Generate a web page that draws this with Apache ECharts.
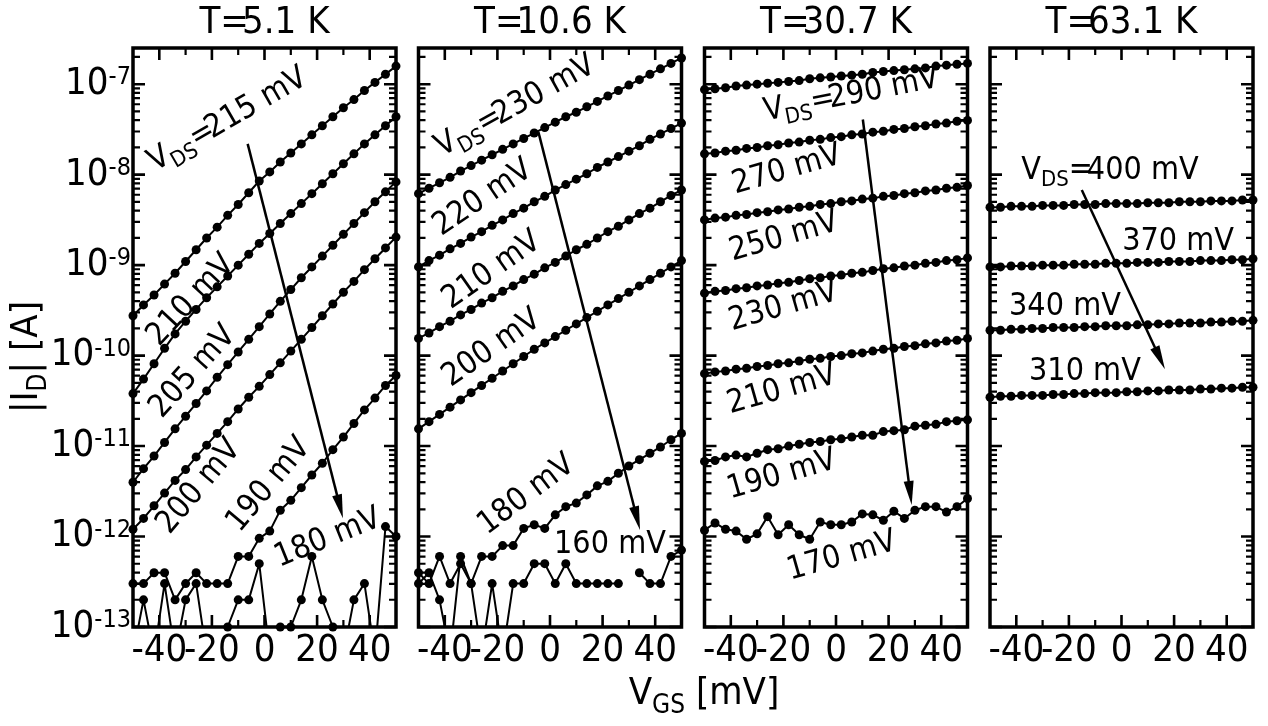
<!DOCTYPE html>
<html>
<head>
<meta charset="utf-8">
<script src="https://cdn.jsdelivr.net/npm/echarts@6/dist/echarts.min.js"></script>
<style>
  html, body { margin: 0; padding: 0; background: #fff; }
  #chart { width: 1268px; height: 726px; }
</style>
</head>
<body>
<div id="chart"></div>
<script>
// gate voltage V_GS [mV], same sweep in every panel
const vgs = [-50, -46, -42, -38, -34, -30, -26, -22, -18, -14, -10, -6, -2,
             2, 6, 10, 14, 18, 22, 26, 30, 34, 38, 42, 46, 50];

// log10 |I_D| [A] (values under 1e-13 sit below the axis)
// T = 5.1 K
const t5_215 = [-9.56,-9.44,-9.33,-9.21,-9.09,-8.96,-8.83,-8.70,-8.58,-8.45,-8.33,-8.20,-8.07,-7.97,-7.86,-7.76,-7.66,-7.56,-7.46,-7.36,-7.26,-7.17,-7.07,-6.98,-6.89,-6.80];
const t5_210 = [-10.42,-10.26,-10.09,-9.92,-9.76,-9.62,-9.49,-9.36,-9.24,-9.12,-9.00,-8.88,-8.76,-8.65,-8.54,-8.43,-8.32,-8.21,-8.10,-7.99,-7.88,-7.77,-7.66,-7.56,-7.46,-7.36];
const t5_205 = [-11.40,-11.25,-11.11,-10.96,-10.81,-10.67,-10.53,-10.39,-10.24,-10.10,-9.96,-9.82,-9.68,-9.54,-9.40,-9.27,-9.14,-9.02,-8.90,-8.78,-8.66,-8.54,-8.42,-8.30,-8.19,-8.08];
const t5_200 = [-11.92,-11.80,-11.66,-11.52,-11.38,-11.26,-11.12,-10.99,-10.86,-10.73,-10.59,-10.46,-10.34,-10.21,-10.08,-9.95,-9.82,-9.69,-9.56,-9.43,-9.30,-9.18,-9.05,-8.93,-8.81,-8.69];
const t5_190 = [-12.52,-12.52,-12.40,-12.40,-12.70,-12.52,-12.40,-12.52,-12.52,-12.52,-12.22,-12.22,-12.02,-11.94,-11.71,-11.60,-11.46,-11.32,-11.19,-11.04,-10.90,-10.75,-10.60,-10.47,-10.33,-10.22];
const t5_180 = [-13.3,-12.70,-13.3,-12.52,-13.3,-12.70,-12.52,-13.3,-13.3,-13.0,-12.70,-12.70,-12.30,-13.3,-13.0,-13.0,-12.70,-12.22,-12.70,-13.0,-13.3,-12.70,-12.52,-13.3,-11.89,-12.00];
// T = 10.6 K
const t10_230 = [-8.21,-8.15,-8.09,-8.03,-7.96,-7.90,-7.84,-7.78,-7.72,-7.66,-7.60,-7.54,-7.48,-7.42,-7.36,-7.31,-7.25,-7.19,-7.13,-7.07,-7.01,-6.95,-6.89,-6.83,-6.77,-6.71];
const t10_220 = [-9.02,-8.95,-8.89,-8.82,-8.76,-8.69,-8.63,-8.56,-8.50,-8.43,-8.37,-8.30,-8.24,-8.17,-8.11,-8.05,-7.99,-7.92,-7.86,-7.80,-7.74,-7.68,-7.61,-7.55,-7.49,-7.43];
const t10_210 = [-9.81,-9.75,-9.68,-9.62,-9.55,-9.49,-9.42,-9.36,-9.29,-9.23,-9.16,-9.10,-9.03,-8.97,-8.90,-8.83,-8.77,-8.70,-8.63,-8.57,-8.50,-8.43,-8.37,-8.30,-8.23,-8.17];
const t10_200 = [-10.81,-10.73,-10.65,-10.57,-10.49,-10.41,-10.33,-10.25,-10.17,-10.09,-10.01,-9.93,-9.86,-9.79,-9.72,-9.65,-9.58,-9.51,-9.44,-9.37,-9.30,-9.23,-9.16,-9.09,-9.02,-8.95];
const t10_180 = [-12.40,-12.52,-12.22,-12.52,-12.30,-12.52,-12.22,-12.22,-12.10,-12.10,-11.91,-11.87,-11.91,-11.76,-11.67,-11.63,-11.54,-11.44,-11.39,-11.30,-11.22,-11.15,-11.08,-11.01,-10.93,-10.86];
const t10_160 = [-12.52,-12.40,-12.70,-13.3,-12.22,-12.52,-13.3,-12.52,-13.3,-12.52,-12.52,-12.30,-12.30,-12.52,-12.30,-12.52,-12.52,-12.52,-12.52,-12.52,null,-12.40,-12.52,-12.52,-12.22,-12.15];
// T = 30.7 K
const t30_290 = [-7.06,-7.05,-7.04,-7.02,-7.01,-7.00,-6.99,-6.98,-6.97,-6.96,-6.94,-6.93,-6.92,-6.91,-6.90,-6.89,-6.87,-6.86,-6.85,-6.84,-6.83,-6.82,-6.80,-6.79,-6.78,-6.77];
const t30_270 = [-7.77,-7.76,-7.74,-7.73,-7.71,-7.70,-7.68,-7.67,-7.65,-7.64,-7.62,-7.61,-7.59,-7.58,-7.56,-7.55,-7.53,-7.52,-7.50,-7.49,-7.47,-7.46,-7.44,-7.43,-7.41,-7.40];
const t30_250 = [-8.50,-8.48,-8.47,-8.45,-8.44,-8.42,-8.41,-8.39,-8.38,-8.36,-8.35,-8.33,-8.32,-8.30,-8.29,-8.27,-8.26,-8.24,-8.23,-8.21,-8.20,-8.18,-8.17,-8.15,-8.14,-8.12];
const t30_230 = [-9.31,-9.29,-9.28,-9.26,-9.25,-9.23,-9.22,-9.20,-9.19,-9.17,-9.15,-9.14,-9.12,-9.11,-9.09,-9.08,-9.06,-9.04,-9.03,-9.01,-9.00,-8.98,-8.97,-8.95,-8.94,-8.92];
const t30_210 = [-10.20,-10.18,-10.17,-10.15,-10.14,-10.12,-10.11,-10.09,-10.08,-10.06,-10.04,-10.03,-10.01,-10.00,-9.98,-9.97,-9.95,-9.93,-9.92,-9.90,-9.89,-9.87,-9.86,-9.84,-9.83,-9.81];
const t30_190 = [-11.17,-11.16,-11.12,-11.10,-11.12,-11.08,-11.04,-11.03,-11.00,-10.98,-10.96,-10.95,-10.93,-10.92,-10.90,-10.88,-10.88,-10.84,-10.83,-10.82,-10.78,-10.77,-10.76,-10.73,-10.72,-10.71];
const t30_170 = [-11.93,-11.85,-11.92,-11.94,-12.03,-11.97,-11.78,-11.98,-11.87,-11.98,-12.03,-11.84,-11.87,-11.87,-11.84,-11.75,-11.76,-11.82,-11.72,-11.80,-11.71,-11.67,-11.67,-11.73,-11.67,-11.58];
// T = 63.1 K
const t63_400 = [-8.36,-8.36,-8.35,-8.35,-8.35,-8.34,-8.34,-8.34,-8.33,-8.33,-8.33,-8.32,-8.32,-8.32,-8.32,-8.31,-8.31,-8.31,-8.30,-8.30,-8.30,-8.29,-8.29,-8.29,-8.28,-8.28];
const t63_370 = [-9.02,-9.02,-9.01,-9.01,-9.01,-9.00,-9.00,-9.00,-8.99,-8.99,-8.99,-8.98,-8.98,-8.98,-8.97,-8.97,-8.97,-8.96,-8.96,-8.96,-8.95,-8.95,-8.95,-8.94,-8.94,-8.93];
const t63_340 = [-9.72,-9.72,-9.71,-9.71,-9.70,-9.70,-9.69,-9.69,-9.69,-9.68,-9.68,-9.67,-9.67,-9.67,-9.66,-9.66,-9.65,-9.65,-9.64,-9.64,-9.64,-9.63,-9.63,-9.62,-9.62,-9.61];
const t63_310 = [-10.46,-10.45,-10.45,-10.44,-10.44,-10.44,-10.43,-10.43,-10.42,-10.42,-10.41,-10.41,-10.41,-10.40,-10.40,-10.39,-10.39,-10.38,-10.38,-10.38,-10.37,-10.37,-10.36,-10.36,-10.35,-10.35];

// tick marks
const xMajor = [-40, -20, 0, 20, 40];
const xMinor = [-30, -10, 10, 30];
const yDecades = [-13, -12, -11, -10, -9, -8, -7];
const yMinorMult = [2, 3, 4, 5, 6, 7, 8, 9];

// curve labels: text, position [mV, log10 A], angle in degrees
const lab5 = [
  ['VDS|215 mV', -13.5, -7.42, 30], ['210 mV', -27.9, -9.39, 47], ['205 mV', -27.2, -10.18, 48],
  ['200 mV', -24.9, -11.45, 50], ['190 mV', 1.7, -11.43, 50], ['180 mV', 24.1, -12.02, 22]
];
const lab10 = [
  ['VDS|230 mV', -12.7, -7.27, 29], ['220 mV', -25.5, -8.26, 34], ['210 mV', -22.1, -9.06, 35],
  ['200 mV', -22.1, -9.92, 35], ['180 mV', -8.9, -11.54, 37], ['160 mV', 22.8, -12.09, 0]
];
const lab30 = [
  ['VDS|290 mV', 6.0, -7.15, 11], ['270 mV', -18.7, -7.95, 16], ['250 mV', -19.8, -8.69, 16],
  ['230 mV', -20.0, -9.46, 16], ['210 mV', -20.6, -10.38, 16], ['190 mV', -20.6, -11.32, 16],
  ['170 mV', 2.2, -12.22, 16]
];
const lab63 = [
  ['VDS|400 mV', -4.4, -7.98, 0], ['370 mV', 21.5, -8.74, 0], ['340 mV', -21.5, -9.46, 0],
  ['310 mV', -13.9, -10.18, 0]
];

// arrows: from -> to, [mV, log10 A]
const arr5 = [[-6.4, -7.66], [28.7, -11.67]];
const arr10 = [[-4.4, -7.53], [33.1, -11.80]];
const arr30 = [[10.2, -7.39], [28.2, -11.52]];
const arr63 = [[-15.1, -8.17], [14.6, -10.03]];

const panels = [
  { title: ['T=', '5.1 K'], curves: [t5_215, t5_210, t5_205, t5_200, t5_190, t5_180], labels: lab5, arrow: arr5 },
  { title: ['T=', '10.6 K'], curves: [t10_230, t10_220, t10_210, t10_200, t10_180, t10_160], labels: lab10, arrow: arr10 },
  { title: ['T=', '30.7 K'], curves: [t30_290, t30_270, t30_250, t30_230, t30_210, t30_190, t30_170], labels: lab30, arrow: arr30 },
  { title: ['T=', '63.1 K'], curves: [t63_400, t63_370, t63_340, t63_310], labels: lab63, arrow: arr63 }
];

const FONT = '"DejaVu Sans Condensed", "DejaVu Sans"';
const xMin = -50, xMax = 50, yMin = -13, yMax = -6.6;
const gridLeft = [133, 418.5, 704.5, 990];
const gridW = 263, gridTop = 48, gridH = 579;

// tick marks as short line segments in data units (length given in pixels)
const mvPerPx = (xMax - xMin) / gridW, decPerPx = (yMax - yMin) / gridH;
function tickSegments(xs, ys, len) {
  const d = [];
  const dy = len * decPerPx, dx = len * mvPerPx;
  xs.forEach(v => {
    d.push([v, yMin], [v, yMin + dy], [v, null]);
    d.push([v, yMax], [v, yMax - dy], [v, null]);
  });
  ys.forEach(v => {
    d.push([xMin, v], [xMin + dx, v], [xMin, null]);
    d.push([xMax, v], [xMax - dx, v], [xMax, null]);
  });
  return d;
}
const yMinorVals = [];
yDecades.forEach(d => yMinorMult.forEach(m => {
  const v = d + Math.log10(m);
  if (v < yMax) yMinorVals.push(v);
}));
const majorTicks = tickSegments(xMajor, yDecades, 12);
const minorTicks = tickSegments(xMinor, yMinorVals, 7);

const grids = [], xAxes = [], yAxes = [], series = [];
panels.forEach((p, i) => {
  grids.push({ left: gridLeft[i], top: gridTop, width: gridW, height: gridH,
    show: true, borderColor: '#000', borderWidth: 3.5, backgroundColor: 'transparent' });
  xAxes.push({ type: 'value', gridIndex: i, min: xMin, max: xMax, interval: 10,
    axisLine: { show: false }, axisTick: { show: false }, splitLine: { show: false },
    axisLabel: { margin: 5, color: '#000', fontFamily: FONT, fontSize: 38,
      formatter: v => (v % 20 === 0 ? String(v) : '') } });
  yAxes.push({ type: 'value', gridIndex: i, min: yMin, max: yMax, interval: 1,
    axisLine: { show: false }, axisTick: { show: false }, splitLine: { show: false },
    axisLabel: { show: i === 0, margin: 2,
      formatter: v => (Number.isInteger(v) ? '{b|10}{s|' + v + '}' : ''),
      rich: {
        b: { fontSize: 38, fontFamily: FONT, color: '#000' },
        s: { fontSize: 25, fontFamily: FONT, color: '#000', verticalAlign: 'top' }
      } } });

  p.curves.forEach((c, j) => {
    const s = {
      type: 'line', xAxisIndex: i, yAxisIndex: i,
      data: vgs.map((x, k) => [x, c[k]]),
      symbol: 'circle', symbolSize: 9, showAllSymbol: true,
      lineStyle: { color: '#000', width: 2 }, itemStyle: { color: '#000' },
      clip: true, silent: true, z: 3
    };
    if (j === 0) {
      s.markLine = {
        silent: true, symbol: ['none', 'triangle'], symbolSize: [10, 24],
        lineStyle: { color: '#000', width: 2.5, type: 'solid' },
        label: { show: false },
        data: [[{ coord: p.arrow[0] }, { coord: p.arrow[1] }]]
      };
    }
    series.push(s);
  });
  [[majorTicks, 2.6], [minorTicks, 2.2]].forEach(t => series.push({
    type: 'line', xAxisIndex: i, yAxisIndex: i, data: t[0], symbol: 'none',
    connectNulls: false, clip: false, silent: true, z: 4,
    lineStyle: { color: '#000', width: t[1], cap: 'butt' }
  }));
});

const chart = echarts.init(document.getElementById('chart'));
chart.setOption({
  animation: false,
  backgroundColor: '#fff',
  grid: grids, xAxis: xAxes, yAxis: yAxes, series: series
});

const measure = document.createElement('canvas').getContext('2d');
function textWidth(t, size) {
  measure.font = size + 'px ' + FONT;
  return measure.measureText(t).width;
}

// rich styles: 'a' normal text lifted a bit, 's' subscript, 'e' the squeezed '='
function richFor(size) {
  const sub = Math.round(size * 0.68);
  return {
    a: { fontSize: size, fontFamily: FONT, fill: '#000', verticalAlign: 'bottom', padding: [0, 0, Math.round(size * 0.17), 0] },
    e: { fontSize: size, fontFamily: FONT, fill: '#000', verticalAlign: 'bottom', padding: [0, -Math.round(size * 0.2), Math.round(size * 0.17), 0] },
    s: { fontSize: sub, fontFamily: FONT, fill: '#000', verticalAlign: 'bottom' }
  };
}
function labelText(t) {
  if (t.indexOf('VDS|') === 0) return '{a|V}{s|DS}{e|=}{a|' + t.slice(4) + '}';
  return t;
}

const graphics = [];
panels.forEach((p, i) => {
  // title, with the '=' pushed into the number as in the original
  const cx = gridLeft[i] + gridW / 2, ts = 38, squeeze = 7;
  const w1 = textWidth(p.title[0], ts), w2 = textWidth(p.title[1], ts);
  const x0 = cx - (w1 + w2 - squeeze) / 2;
  graphics.push({ type: 'text', x: x0, y: 23, silent: true,
    style: { text: p.title[0], fill: '#000', fontSize: ts, fontFamily: FONT, align: 'left', verticalAlign: 'middle' } });
  graphics.push({ type: 'text', x: x0 + w1 - squeeze, y: 23, silent: true,
    style: { text: p.title[1], fill: '#000', fontSize: ts, fontFamily: FONT, align: 'left', verticalAlign: 'middle' } });

  // curve labels
  p.labels.forEach(l => {
    const pt = chart.convertToPixel({ gridIndex: i }, [l[1], l[2]]);
    graphics.push({ type: 'text', x: pt[0], y: pt[1], rotation: l[3] * Math.PI / 180,
      silent: true, z: 10,
      style: { text: labelText(l[0]), fill: '#000', fontSize: 32, fontFamily: FONT,
        align: 'center', verticalAlign: 'middle', rich: richFor(32) } });
  });
});
graphics.push({ type: 'text', x: 30, y: 357, rotation: Math.PI / 2, silent: true,
  style: { text: '{a||I}{s|D}{a|| [A]}', fill: '#000', fontSize: 38, fontFamily: FONT,
    align: 'center', verticalAlign: 'middle', rich: richFor(38) } });
graphics.push({ type: 'text', x: 704, y: 697, silent: true,
  style: { text: '{a|V}{s|GS}{a| [mV]}', fill: '#000', fontSize: 38, fontFamily: FONT,
    align: 'center', verticalAlign: 'middle', rich: richFor(38) } });
chart.setOption({ graphic: graphics });
</script>
</body>
</html>
